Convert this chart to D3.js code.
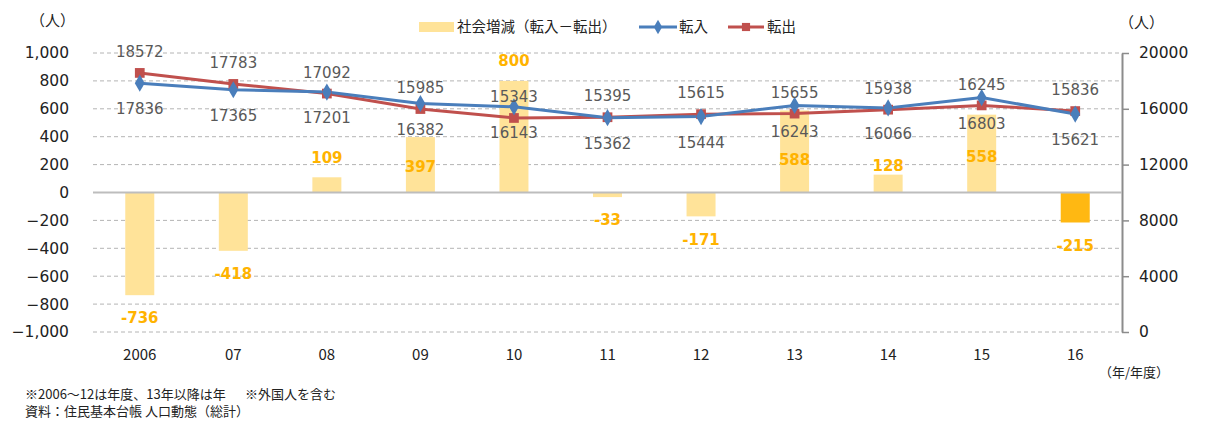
<!DOCTYPE html>
<html lang="ja">
<head>
<meta charset="utf-8">
<script src="https://cdn.jsdelivr.net/npm/d3@7"></script>
<style>
  html, body { margin: 0; padding: 0; background: #fff; }
  svg { display: block; }
</style>
</head>
<body>
<div id="chart"></div>
<script>
const years = ["2006", "07", "08", "09", "10", "11", "12", "13", "14", "15", "16"];
const tennyu = [17836, 17365, 17201, 16382, 16143, 15362, 15444, 16243, 16066, 16803, 15621];
const tenshutsu = [18572, 17783, 17092, 15985, 15343, 15395, 15615, 15655, 15938, 16245, 15836];
const shakaiZougen = [-736, -418, 109, 397, 800, -33, -171, 588, 128, 558, -215];
const leftTicks = [-1000, -800, -600, -400, -200, 0, 200, 400, 600, 800, 1000];
const rightTicks = [0, 4000, 8000, 12000, 16000, 20000];

// hand placed label nudges (px) for a few positive bars, like the original
const barLabelShift = { "09": 50, "13": 69, "14": 11, "15": 62 };

const W = 1217, H = 422;
const margin = { top: 53, right: 95, bottom: 90, left: 93 };
const plotL = margin.left, plotR = W - margin.right, plotT = margin.top, plotB = H - margin.bottom;

const numFont = "'DejaVu Sans', Verdana, sans-serif";
const jpFont = "'Noto Sans CJK JP', 'Noto Sans', sans-serif";

const svg = d3.select("#chart").append("svg")
  .attr("width", W)
  .attr("height", H);

const x = d3.scaleBand()
  .domain(years)
  .range([plotL, plotR])
  .paddingInner(0.69)
  .paddingOuter(0.345);

const yLeft = d3.scaleLinear().domain([-1000, 1000]).range([plotB, plotT]);
const yRight = d3.scaleLinear().domain([0, 20000]).range([plotB, plotT]);
const cx = d => x(d) + x.bandwidth() / 2;

// gridlines
svg.append("g")
  .selectAll("line")
  .data(leftTicks.filter(t => t !== 0))
  .join("line")
  .attr("x1", plotL)
  .attr("x2", plotR)
  .attr("y1", d => yLeft(d))
  .attr("y2", d => yLeft(d))
  .attr("stroke", "#b4b4b4")
  .attr("stroke-width", 1)
  .attr("stroke-dasharray", "4,3");

// left axis labels
svg.append("g")
  .attr("transform", `translate(${plotL - 21},0)`)
  .call(d3.axisLeft(yLeft).tickValues(leftTicks).tickSize(0).tickFormat(d3.format(",")))
  .call(g => g.select(".domain").remove())
  .selectAll("text")
  .attr("font-family", numFont)
  .attr("font-size", "15.5px")
  .attr("fill", "#222");

// right axis
const rAxis = svg.append("g")
  .attr("transform", `translate(${plotR},0)`)
  .call(d3.axisRight(yRight).tickValues(rightTicks).tickSize(7).tickSizeOuter(0).tickPadding(10).tickFormat(d3.format("d")));
rAxis.select(".domain").attr("stroke", "#8c8c8c").attr("stroke-width", 2);
rAxis.selectAll(".tick line").attr("stroke", "#8c8c8c").attr("stroke-width", 1.5);
rAxis.selectAll("text")
  .attr("font-family", numFont)
  .attr("font-size", "15.5px")
  .attr("fill", "#222");

// bars
svg.append("g")
  .selectAll("rect")
  .data(years)
  .join("rect")
  .attr("x", d => x(d))
  .attr("width", x.bandwidth())
  .attr("y", (d, i) => yLeft(Math.max(0, shakaiZougen[i])))
  .attr("height", (d, i) => Math.abs(yLeft(shakaiZougen[i]) - yLeft(0)))
  .attr("fill", (d, i) => i === years.length - 1 ? "#ffb812" : "#ffe399");

// zero line
svg.append("line")
  .attr("x1", plotL)
  .attr("x2", plotR)
  .attr("y1", yLeft(0))
  .attr("y2", yLeft(0))
  .attr("stroke", "#bdbdbd")
  .attr("stroke-width", 2);

// x labels
svg.append("g")
  .attr("transform", `translate(0,${plotB + 14})`)
  .call(d3.axisBottom(x).tickSize(0))
  .call(g => g.select(".domain").remove())
  .selectAll("text")
  .attr("font-family", jpFont)
  .attr("font-size", "15px")
  .attr("fill", "#222");

// lines
const series = [
  { name: "転出", values: tenshutsu, color: "#c0504d", marker: d3.symbolSquare, size: 95, dy: -21 },
  { name: "転入", values: tennyu, color: "#4a7ebb", marker: d3.symbolDiamond, size: 85, dy: 26 }
];

const line = vals => d3.line()
  .x((d, i) => cx(years[i]))
  .y(d => yRight(d))(vals);

series.forEach(s => {
  svg.append("path")
    .attr("d", line(s.values))
    .attr("fill", "none")
    .attr("stroke", s.color)
    .attr("stroke-width", 3);
});

series.forEach(s => {
  svg.append("g")
    .selectAll("path")
    .data(s.values)
    .join("path")
    .attr("transform", (d, i) => `translate(${cx(years[i])},${yRight(d)})`)
    .attr("d", d3.symbol().type(s.marker).size(s.size))
    .attr("fill", s.color);
});

series.forEach(s => {
  svg.append("g")
    .selectAll("text")
    .data(s.values)
    .join("text")
    .attr("x", (d, i) => cx(years[i]))
    .attr("y", d => yRight(d) + s.dy)
    .attr("dy", "0.35em")
    .attr("text-anchor", "middle")
    .attr("font-family", numFont)
    .attr("font-size", "15px")
    .attr("fill", "#595959")
    .text(d => d);
});

// bar labels
svg.append("g")
  .selectAll("text")
  .data(shakaiZougen)
  .join("text")
  .attr("x", (d, i) => cx(years[i]))
  .attr("y", (d, i) => yLeft(d) + (d < 0 ? 23 : -20) + (barLabelShift[years[i]] || 0))
  .attr("dy", "0.35em")
  .attr("text-anchor", "middle")
  .attr("font-family", numFont)
  .attr("font-size", "15px")
  .attr("font-weight", "bold")
  .attr("fill", "#ffb300")
  .text(d => d);

// units
svg.append("text")
  .attr("x", 30).attr("y", 26)
  .attr("font-family", jpFont).attr("font-size", "15px").attr("fill", "#222")
  .text("（人）");
svg.append("text")
  .attr("x", 1119).attr("y", 28)
  .attr("font-family", jpFont).attr("font-size", "15px").attr("fill", "#222")
  .text("（人）");
svg.append("text")
  .attr("x", 1099).attr("y", 377)
  .attr("font-family", jpFont).attr("font-size", "13px").attr("fill", "#222")
  .text("（年/年度）");

// legend
const lg = svg.append("g").attr("font-family", jpFont).attr("font-size", "14.5px").attr("fill", "#222");
lg.append("rect").attr("x", 419).attr("y", 22).attr("width", 35).attr("height", 10).attr("fill", "#ffe399");
lg.append("text").attr("x", 457).attr("y", 32).text("社会増減（転入－転出）");
const lgLines = [
  { s: series[1], x0: 639, x1: 677, tx: 679 },
  { s: series[0], x0: 728, x1: 764, tx: 767 }
];
lgLines.forEach(l => {
  lg.append("line")
    .attr("x1", l.x0).attr("x2", l.x1).attr("y1", 27).attr("y2", 27)
    .attr("stroke", l.s.color).attr("stroke-width", 3);
  lg.append("path")
    .attr("transform", `translate(${(l.x0 + l.x1) / 2},27)`)
    .attr("d", d3.symbol().type(l.s.marker).size(l.s.size * 0.7))
    .attr("fill", l.s.color);
  lg.append("text").attr("x", l.tx).attr("y", 32).text(l.s.name);
});

// notes
const notes = svg.append("g").attr("font-family", jpFont).attr("font-size", "13px").attr("fill", "#222");
notes.append("text").attr("x", 25).attr("y", 399).text("※2006～12は年度、13年以降は年");
notes.append("text").attr("x", 245).attr("y", 399).text("※外国人を含む");
notes.append("text").attr("x", 25).attr("y", 416).text("資料：住民基本台帳 人口動態（総計）");
</script>
</body>
</html>
